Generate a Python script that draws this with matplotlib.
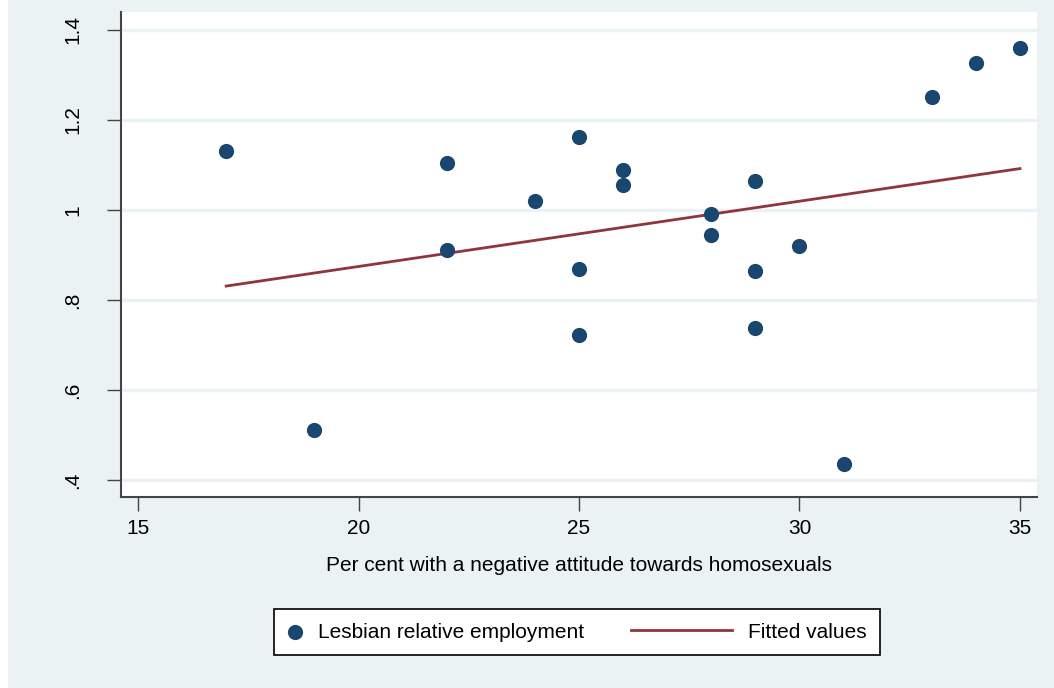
import numpy as np
import matplotlib
matplotlib.use("Agg")
import matplotlib.pyplot as plt
from matplotlib.lines import Line2D
from matplotlib.legend_handler import HandlerLine2D

# === Data ===
attitude = [17, 19, 22, 22, 24, 25, 25, 25, 26, 26, 28, 28, 29, 29, 29, 30, 31, 33, 34, 35]
employment = [1.132, 0.511, 1.105, 0.911, 1.021, 1.163, 0.869, 0.722, 1.089, 1.056,
              0.990, 0.945, 1.065, 0.864, 0.738, 0.921, 0.436, 1.252, 1.326, 1.359]
x_ticks = [15, 20, 25, 30, 35]
y_ticks = [0.4, 0.6, 0.8, 1.0, 1.2, 1.4]
y_tick_labels = [".4", ".6", ".8", "1", "1.2", "1.4"]

# linear fit
slope, intercept = np.polyfit(attitude, employment, 1)
fit_x = np.array([min(attitude), max(attitude)])
fit_y = intercept + slope * fit_x

plt.rcParams["font.family"] = ["Liberation Sans", "DejaVu Sans"]

bg = "#EAF2F3"
navy = "#1A476F"
maroon = "#90353B"


# legend line handle that reaches further left than its (short) handle box
class LongLine(HandlerLine2D):
    def create_artists(self, legend, orig_handle, xdescent, ydescent,
                       width, height, fontsize, trans):
        y = (height - ydescent) / 2
        ln = Line2D([-xdescent - 62, width - xdescent], [y, y],
                    color=orig_handle.get_color(), lw=orig_handle.get_linewidth())
        ln.set_transform(trans)
        return [ln]


fig = plt.figure(figsize=(10.54, 6.88), dpi=100, facecolor=bg)
ax = fig.add_axes([121 / 1054, 1 - 497 / 688, (1037 - 121) / 1054, (497 - 12) / 688])
ax.set_facecolor("white")

for yv in y_ticks:
    ax.axhline(yv, color=bg, lw=2.5, zorder=1)

pts = ax.scatter(attitude, employment, s=120, color=navy, zorder=3, linewidths=0,
                 label="Lesbian relative employment")
fit_line, = ax.plot(fit_x, fit_y, color=maroon, lw=2, zorder=2, label="Fitted values")

ax.set_xlim(14.614, 35.386)
ax.set_ylim(0.362, 1.44)
ax.set_xticks(x_ticks)
ax.set_yticks(y_ticks)
ax.set_yticklabels(y_tick_labels, rotation=90, va="center")
ax.tick_params(axis="both", direction="out", length=10, width=1, color="#444444",
               labelsize=15)
ax.tick_params(axis="x", pad=6)
ax.tick_params(axis="y", pad=18)

for s in ["top", "right"]:
    ax.spines[s].set_visible(False)
for s in ["left", "bottom"]:
    ax.spines[s].set_color("#444444")
    ax.spines[s].set_linewidth(1.5)

ax.set_xlabel("Per cent with a negative attitude towards homosexuals", fontsize=15, labelpad=13)

leg = fig.legend(handles=[pts, fit_line], loc="center",
                 bbox_to_anchor=(577 / 1054, 1 - 632 / 688), ncol=2,
                 fontsize=15, frameon=True, fancybox=False, edgecolor="black",
                 facecolor="white", framealpha=1,
                 handlelength=0.7, columnspacing=6.4, borderpad=0.65, handletextpad=0.75,
                 handler_map={Line2D: LongLine()})
leg.get_frame().set_linewidth(1.2)

# thin white strip at the left edge as in the reference
fig.patches.append(plt.Rectangle((0, 0), 7 / 1054, 1, transform=fig.transFigure,
                                 color="white", zorder=-1))

fig.savefig("out.png", dpi=100, facecolor=bg)
